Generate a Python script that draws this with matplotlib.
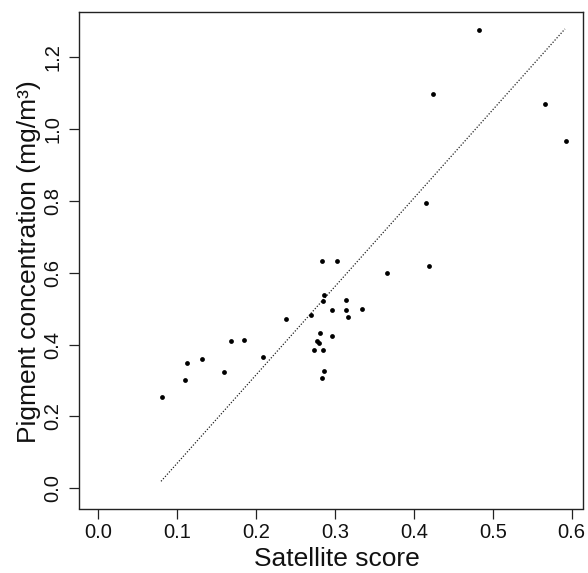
import matplotlib
matplotlib.use("Agg")
import matplotlib.pyplot as plt

plt.rcParams['font.family'] = ['Liberation Sans', 'DejaVu Sans']

# Data
satellite_score = [0.482, 0.4246, 0.5665, 0.5924, 0.4153, 0.4191, 0.3655,
                   0.0804, 0.1099, 0.1120, 0.1318, 0.1597, 0.1686, 0.1850,
                   0.2090, 0.2383, 0.2696, 0.2860, 0.2848, 0.3143, 0.2958,
                   0.3143, 0.3160, 0.3342, 0.2810, 0.2958, 0.2772, 0.2793,
                   0.2734, 0.2848, 0.2864, 0.2831, 0.2831, 0.3029]
pigment = [1.277, 1.0986, 1.069, 0.968, 0.794, 0.618, 0.600,
           0.255, 0.3015, 0.348, 0.359, 0.323, 0.410, 0.412,
           0.3655, 0.472, 0.4816, 0.539, 0.5214, 0.524, 0.4955,
           0.4964, 0.4777, 0.498, 0.432, 0.425, 0.411, 0.4037,
           0.385, 0.385, 0.327, 0.308, 0.632, 0.632]
fit_x = [0.0795, 0.5915]
fit_y = [0.0195, 1.279]

x_ticks = [0.0, 0.1, 0.2, 0.3, 0.4, 0.5, 0.6]
x_ticklabels = ["0.0", "0.1", "0.2", "0.3", "0.4", "0.5", "0.6"]
y_ticks = [0.0, 0.2, 0.4, 0.6, 0.8, 1.0, 1.2]
y_ticklabels = ["0.0", "0.2", "0.4", "0.6", "0.8", "1.0", "1.2"]

W, H = 588, 573
L, R, T, B = 79.3, 582.7, 11.7, 508.5
fig = plt.figure(figsize=(W / 100, H / 100), dpi=100)
ax = fig.add_axes([L / W, 1 - B / H, (R - L) / W, (B - T) / H])

ax.plot(fit_x, fit_y, color='#222222', lw=0.9, linestyle=(0, (1, 1.4)))
ax.scatter(satellite_score, pigment, s=12, color='black', zorder=3, linewidths=0)

ax.set_xlim(-0.0241, 0.614)
ax.set_ylim(-0.0562, 1.327)
ax.set_xticks(x_ticks)
ax.set_xticklabels(x_ticklabels)
ax.set_yticks(y_ticks)
ax.set_yticklabels(y_ticklabels, rotation=90, va='center')

ax.tick_params(axis='both', direction='out', length=7.2, width=0.9,
               labelsize=14.5, color='#222222', labelcolor='#111111')
ax.tick_params(axis='x', pad=3)
ax.tick_params(axis='y', pad=5)
for sp in ax.spines.values():
    sp.set_linewidth(1.0)
    sp.set_color('#222222')

ax.set_xlabel("Satellite score", fontsize=19, color='#111111', va='baseline')
ax.xaxis.set_label_coords(0.511, -(566.5 - B) / (B - T))
ax.set_ylabel("Pigment concentration (mg/m³)", fontsize=19, color='#111111')
ax.yaxis.set_label_coords(-(L - 41) / (R - L), 0.497)

fig.savefig("out.png", dpi=100)
